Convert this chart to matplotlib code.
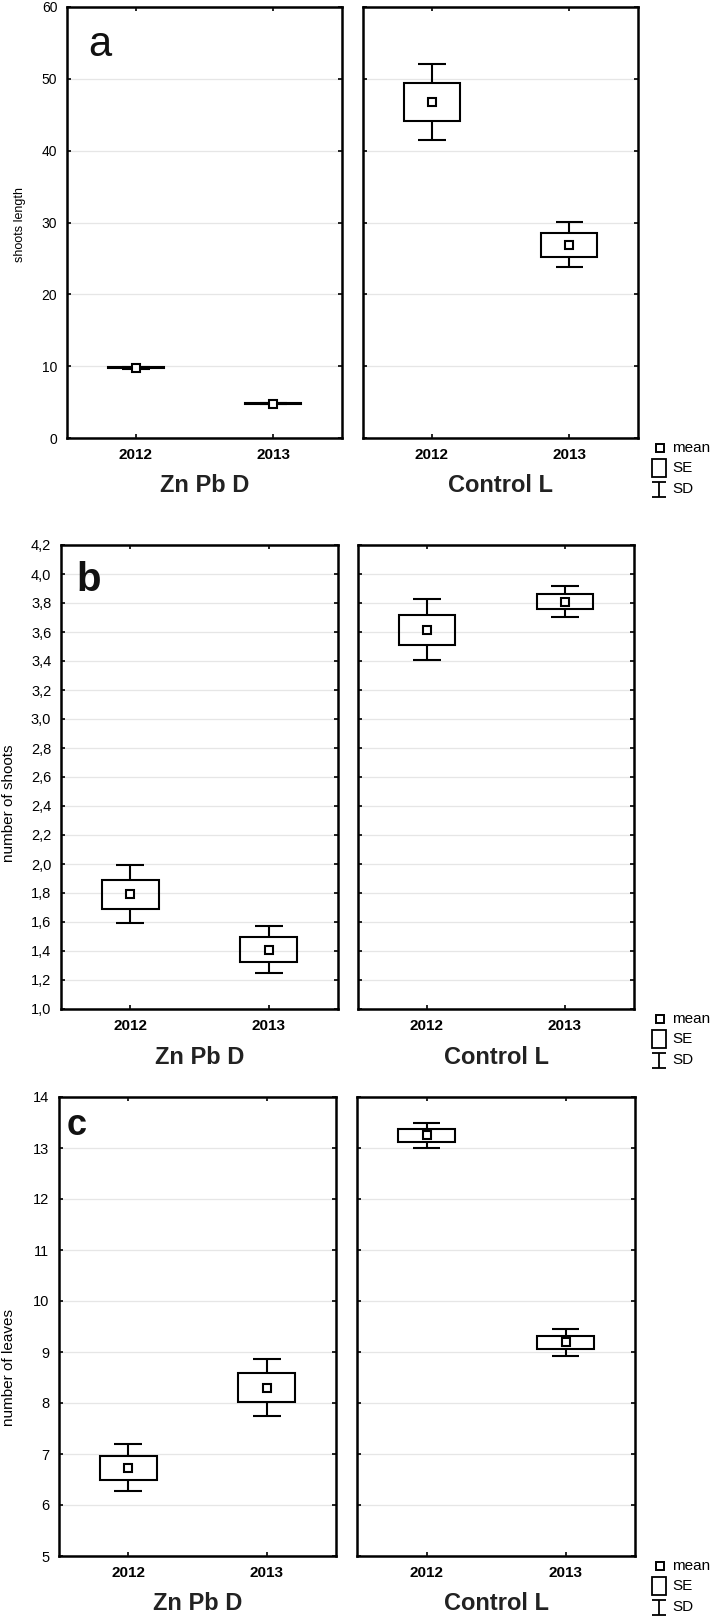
import matplotlib
matplotlib.use('Agg')
import matplotlib.pyplot as plt
from matplotlib.patches import Rectangle
from matplotlib.ticker import FuncFormatter

plt.rcParams['font.family'] = ['Liberation Sans', 'DejaVu Sans']

years = ['2012', '2013']
groups = ['Zn Pb D', 'Control L']

# rows: Zn Pb D, Control L ; cols: 2012, 2013
len_mean = [[9.8, 4.8], [46.8, 26.9]]
len_se = [[0.08, 0.06], [2.65, 1.65]]
len_sd = [[0.15, 0.12], [5.25, 3.15]]

shoots_mean = [[1.79, 1.41], [3.615, 3.81]]
shoots_se = [[0.10, 0.085], [0.105, 0.05]]
shoots_sd = [[0.20, 0.16], [0.21, 0.105]]

leaves_mean = [[6.73, 8.30], [13.25, 9.19]]
leaves_se = [[0.235, 0.285], [0.125, 0.13]]
leaves_sd = [[0.46, 0.56], [0.245, 0.26]]

W, H = 710, 1620
fig = plt.figure(figsize=(W / 100, H / 100), dpi=100)


def px_axes(x0, x1, y0, y1):
    return fig.add_axes([x0 / W, 1 - y1 / H, (x1 - x0) / W, (y1 - y0) / H])


def draw_box(ax, x, m, se, sd):
    bw, cw = 0.41, 0.2
    ax.vlines(x, m + se, m + sd, color='k', lw=1.5, zorder=3)
    ax.vlines(x, m - sd, m - se, color='k', lw=1.5, zorder=3)
    ax.hlines([m - sd, m + sd], x - cw / 2, x + cw / 2, color='k', lw=1.5, zorder=3)
    ax.add_patch(Rectangle((x - bw / 2, m - se), bw, 2 * se, fill=False,
                           ec='k', lw=1.5, zorder=3))
    ax.plot(x, m, marker='s', ms=6, mfc='white', mec='k', mew=1.5, zorder=4)


def style_axes(ax, P, showy):
    ax.set_xlim(-0.5, 1.5)
    ax.set_ylim(*P['ylim'])
    ax.set_yticks(P['yticks'])
    ax.set_xticks([0, 1])
    ax.set_xticklabels(years, fontweight='bold', fontsize=11)
    ax.yaxis.set_major_formatter(FuncFormatter(P['fmt']))
    ax.tick_params(direction='in', length=3, width=1.2, top=True, right=True,
                   labelleft=showy, pad=7)
    for lab in ax.get_yticklabels():
        lab.set_fontsize(P['yfs'])
    for s in ax.spines.values():
        s.set_linewidth(1.8)
    ax.yaxis.grid(True, color='#e6e6e6', lw=0.9)
    ax.set_axisbelow(True)


overlay = fig.add_axes([0, 0, 1, 1])
overlay.set_xlim(0, W)
overlay.set_ylim(H, 0)
overlay.axis('off')
overlay.set_zorder(-1)


def legend(bottom):
    y1, y2, y3 = bottom + 10, bottom + 30, bottom + 51
    overlay.plot(659.5, y1, marker='s', ms=5.5, mfc='white', mec='k', mew=1.4)
    overlay.add_patch(Rectangle((652, y2 - 9), 14, 18, fill=False, ec='k', lw=1.3))
    overlay.vlines(659, y3 - 7, y3 + 8, color='k', lw=1.3)
    overlay.hlines([y3 - 7, y3 + 8], 652, 666, color='k', lw=1.3)
    for y, t in [(y1, 'mean'), (y2, 'SE'), (y3, 'SD')]:
        overlay.text(672, y, t, fontsize=11, va='center', ha='left')


panels = [
    dict(mean=len_mean, se=len_se, sd=len_sd, ylim=(0, 60), yticks=range(0, 61, 10),
         fmt=lambda v, p: f'{v:.0f}', ylabel='shoots length', ylx=20, yly=225, ylfs=9,
         letter='a', lw='normal', lfs=30, lpos=(0.076, 0.886),
         box=[(67, 342), (363, 638)], y=(7, 438), yfs=10),
    dict(mean=shoots_mean, se=shoots_se, sd=shoots_sd, ylim=(1.0, 4.2),
         yticks=[1.0 + 0.2 * i for i in range(17)],
         fmt=lambda v, p: f'{v:.1f}'.replace('.', ','), ylabel='number of shoots',
         ylx=9, yly=803, ylfs=11,
         letter='b', lw='bold', lfs=29, lpos=(0.054, 0.901),
         box=[(61, 338), (358, 634)], y=(545, 1009), yfs=10.5),
    dict(mean=leaves_mean, se=leaves_se, sd=leaves_sd, ylim=(5, 14), yticks=range(5, 15),
         fmt=lambda v, p: f'{v:.0f}', ylabel='number of leaves', ylx=9, yly=1367, ylfs=11,
         letter='c', lw='bold', lfs=26, lpos=(0.029, 0.917),
         box=[(59, 336), (357, 635)], y=(1097, 1556), yfs=10.5),
]

for P in panels:
    top, bottom = P['y']
    for g, (x0, x1) in enumerate(P['box']):
        ax = px_axes(x0, x1, top, bottom)
        for i in range(len(years)):
            draw_box(ax, i, P['mean'][g][i], P['se'][g][i], P['sd'][g][i])
        style_axes(ax, P, g == 0)
        overlay.text((x0 + x1) / 2, bottom + 48, groups[g], fontsize=17,
                     fontweight='bold', ha='center', va='center', color='#222222')
        if g == 0:
            ax.text(P['lpos'][0], P['lpos'][1], P['letter'], transform=ax.transAxes,
                    fontsize=P['lfs'], fontweight=P['lw'], va='baseline', ha='left',
                    color='#111111')
    overlay.text(P['ylx'], P['yly'], P['ylabel'], rotation=90,
                 fontsize=P['ylfs'], ha='center', va='center')
    legend(bottom)

fig.savefig('out.png', dpi=100)
